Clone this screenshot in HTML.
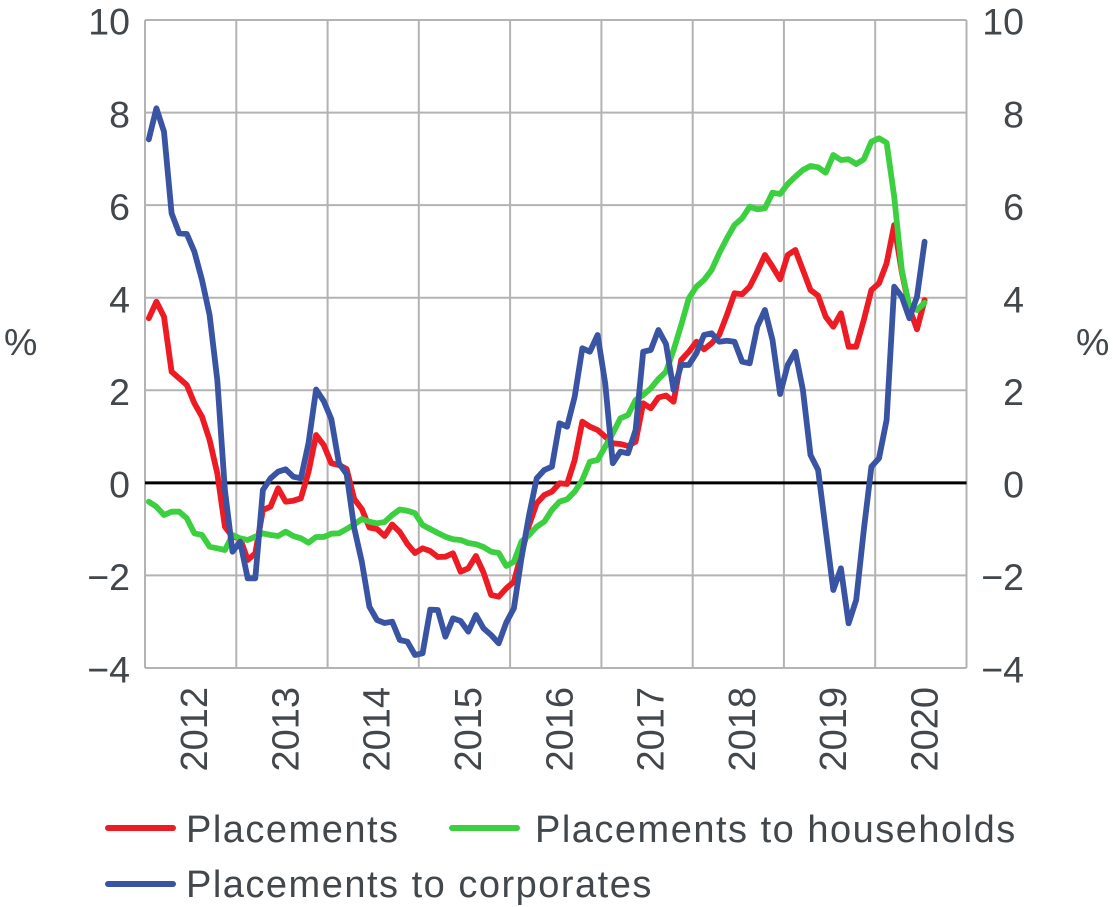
<!DOCTYPE html>
<html>
<head>
<meta charset="utf-8">
<style>
  html, body { margin: 0; padding: 0; background: #ffffff; }
  body { width: 1113px; height: 907px; overflow: hidden; }
  svg { display: block; }
  text { font-family: "Liberation Sans", Arial, sans-serif; fill: #42474c; }
</style>
</head>
<body>
<svg width="1113" height="907" viewBox="0 0 1113 907" xmlns="http://www.w3.org/2000/svg">
  <rect x="0" y="0" width="1113" height="907" fill="#ffffff"/>

  <!-- horizontal gridlines -->
  <g stroke="#b3b3b3" stroke-width="2" fill="none">
    <line x1="145" y1="20" x2="966.5" y2="20"/>
    <line x1="145" y1="112.6" x2="966.5" y2="112.6"/>
    <line x1="145" y1="205.1" x2="966.5" y2="205.1"/>
    <line x1="145" y1="297.7" x2="966.5" y2="297.7"/>
    <line x1="145" y1="390.3" x2="966.5" y2="390.3"/>
    <line x1="145" y1="575.4" x2="966.5" y2="575.4"/>
    <line x1="145" y1="668" x2="966.5" y2="668"/>
    <!-- vertical gridlines -->
    <line x1="145" y1="20" x2="145" y2="668"/>
    <line x1="236.3" y1="20" x2="236.3" y2="668"/>
    <line x1="327.6" y1="20" x2="327.6" y2="668"/>
    <line x1="418.8" y1="20" x2="418.8" y2="668"/>
    <line x1="510.1" y1="20" x2="510.1" y2="668"/>
    <line x1="601.4" y1="20" x2="601.4" y2="668"/>
    <line x1="692.7" y1="20" x2="692.7" y2="668"/>
    <line x1="783.9" y1="20" x2="783.9" y2="668"/>
    <line x1="875.2" y1="20" x2="875.2" y2="668"/>
    <line x1="966.5" y1="20" x2="966.5" y2="668"/>
  </g>
  <!-- zero line -->
  <line x1="145" y1="482.9" x2="966.5" y2="482.9" stroke="#000000" stroke-width="3"/>

  <!-- Left axis labels -->
  <g font-size="37.5" text-anchor="end">
    <text x="130" y="34.7">10</text>
    <text x="130" y="127.3">8</text>
    <text x="130" y="219.8">6</text>
    <text x="130" y="312.4">4</text>
    <text x="130" y="405">2</text>
    <text x="130" y="497.6">0</text>
    <text x="130" y="590.1">−2</text>
    <text x="130" y="682.7">−4</text>
  </g>
  <!-- Right axis labels -->
  <g font-size="37.5" text-anchor="end">
    <text x="1024" y="34.7">10</text>
    <text x="1024" y="127.3">8</text>
    <text x="1024" y="219.8">6</text>
    <text x="1024" y="312.4">4</text>
    <text x="1024" y="405">2</text>
    <text x="1024" y="497.6">0</text>
    <text x="1024" y="590.1">−2</text>
    <text x="1024" y="682.7">−4</text>
  </g>
  <!-- % labels -->
  <text x="4" y="355" font-size="37.5">%</text>
  <text x="1076" y="355" font-size="37.5">%</text>

  <!-- Year labels (rotated) -->
  <g font-size="38" text-anchor="end">
    <text transform="translate(207.2,687) rotate(-90)">2012</text>
    <text transform="translate(298.5,687) rotate(-90)">2013</text>
    <text transform="translate(389.7,687) rotate(-90)">2014</text>
    <text transform="translate(481,687) rotate(-90)">2015</text>
    <text transform="translate(572.3,687) rotate(-90)">2016</text>
    <text transform="translate(663.6,687) rotate(-90)">2017</text>
    <text transform="translate(754.8,687) rotate(-90)">2018</text>
    <text transform="translate(846.1,687) rotate(-90)">2019</text>
    <text transform="translate(937.4,687) rotate(-90)">2020</text>
  </g>

  <!-- Series -->
  <g fill="none" stroke-width="5.8" stroke-linejoin="round" stroke-linecap="round">
    <!-- Placements (red) -->
    <polyline stroke="#ed1c24" points="
148.8,318.3 156.4,301.7 164.0,316.7 171.6,371.7 179.2,378.3 186.8,385 194.4,403.3 202.0,416.7 209.6,440 217.3,473.3
224.9,526.7 232.5,536.7 240.1,538.3 247.7,560 255.3,553.3 262.9,510 270.5,506.7 278.1,488.3 285.7,501.7 293.3,500.7
300.9,498.3 308.5,472 316.1,435 323.7,445 331.3,463.3 338.9,465 346.6,469 354.2,499 361.8,509 369.4,527.5
377.0,529 384.6,536 392.2,524.5 399.8,532 407.4,544 415.0,553 422.6,548.3 430.2,551 437.8,557 445.4,556.7
453.0,553.3 460.6,571.7 468.3,568.3 475.9,556 483.5,572.5 491.1,595 498.7,596.7 506.3,588.3 513.9,581.7 521.5,553.3
529.1,525 536.7,503.3 544.3,495 551.9,491.7 559.5,483.3 567.1,484 574.7,460 582.3,421.7 589.9,426.7 597.6,430
605.2,436.7 612.8,443.3 620.4,444 628.0,446 635.6,441.7 643.2,403.3 650.8,408.3 658.4,397.5 666.0,395.5 673.6,401.7
681.2,360 688.8,351.7 696.4,341.7 704.0,349.3 711.6,343.3 719.2,335 726.9,315 734.5,293.3 742.1,294.3 749.7,286.7
757.3,271.7 764.9,255 772.5,266.7 780.1,279.3 787.7,255 795.3,250 802.9,270 810.5,290 818.1,295.7 825.7,316.7
833.3,326.7 840.9,313.3 848.6,346.7 856.2,346.7 863.8,320 871.4,290 879.0,283.3 886.6,263.3 894.2,225 901.8,272
909.4,308.3 917.0,329.3 924.6,300"/>
    <!-- Placements to households (green) -->
    <polyline stroke="#3ccf3f" points="
148.8,501.7 156.4,506.7 164.0,515 171.6,511.7 179.2,511.7 186.8,518.3 194.4,533.3 202.0,535 209.6,546.7 217.3,548.3
224.9,550 232.5,535 240.1,538.3 247.7,540 255.3,536.7 262.9,533.3 270.5,535 278.1,536 285.7,531.7 293.3,536
300.9,538.3 308.5,542.7 316.1,537 323.7,537 331.3,533.7 338.9,533.3 346.6,529 354.2,524.5 361.8,519 369.4,521.7
377.0,523.3 384.6,522 392.2,515 399.8,509.5 407.4,510.7 415.0,513.3 422.6,525 430.2,529 437.8,533 445.4,536.7
453.0,539.3 460.6,540 468.3,543 475.9,544.2 483.5,547 491.1,551.7 498.7,553 506.3,566 513.9,561.7 521.5,541.5
529.1,535 536.7,526.7 544.3,521.7 551.9,510 559.5,501.7 567.1,499.3 574.7,491.7 582.3,480 589.9,461.7 597.6,460
605.2,446.7 612.8,433.3 620.4,418.3 628.0,415 635.6,400 643.2,395 650.8,388.3 658.4,379 666.0,371.7 673.6,350
681.2,325 688.8,298.3 696.4,286.7 704.0,280 711.6,270 719.2,253.3 726.9,238.3 734.5,225 742.1,218.3 749.7,206.7
757.3,209.3 764.9,208.3 772.5,192.7 780.1,194 787.7,184 795.3,176.7 802.9,170 810.5,166 818.1,167.3 825.7,172.7
833.3,155 840.9,160 848.6,159.3 856.2,164 863.8,159.3 871.4,141.7 879.0,138.3 886.6,142.7 894.2,196.7 901.8,270
909.4,306.7 917.0,310 924.6,302.7"/>
    <!-- Placements to corporates (blue) -->
    <polyline stroke="#3a54a4" points="
148.8,139.3 156.4,108.3 164.0,131.7 171.6,213.3 179.2,233.3 186.8,234 194.4,251.7 202.0,280 209.6,315 217.3,380
224.9,490 232.5,551.7 240.1,541.7 247.7,578.3 255.3,578.3 262.9,490 270.5,478.3 278.1,471.7 285.7,469.3 293.3,476.7
300.9,478.3 308.5,443.3 316.1,389.5 323.7,401 331.3,419 338.9,463.3 346.6,474 354.2,528 361.8,561.7 369.4,606.7
377.0,620 384.6,623 392.2,621.7 399.8,640 407.4,641.7 415.0,655 422.6,653.3 430.2,609.7 437.8,610 445.4,636.7
453.0,618.3 460.6,621 468.3,631.7 475.9,615 483.5,628.3 491.1,635 498.7,643.3 506.3,622.5 513.9,608.3 521.5,558
529.1,515 536.7,478.3 544.3,470 551.9,466.7 559.5,423.3 567.1,426.7 574.7,396.7 582.3,348.3 589.9,351.7 597.6,335
605.2,383.3 612.8,463.3 620.4,451.7 628.0,453.3 635.6,430 643.2,351.7 650.8,350 658.4,330 666.0,344 673.6,390
681.2,365 688.8,365 696.4,353.3 704.0,335 711.6,333.3 719.2,341.7 726.9,340.7 734.5,341.7 742.1,361.7 749.7,363.3
757.3,326.7 764.9,310 772.5,340 780.1,394 787.7,365 795.3,351.7 802.9,390 810.5,455 818.1,470 825.7,530
833.3,590 840.9,568.3 848.6,623.3 856.2,600 863.8,530 871.4,466.7 879.0,458.3 886.6,420 894.2,286.7 901.8,296.7
909.4,318.3 917.0,296.7 924.6,241.7"/>
  </g>

  <!-- Legend -->
  <g stroke-width="6" stroke-linecap="round">
    <line x1="108" y1="828" x2="173" y2="828" stroke="#ed1c24"/>
    <line x1="452" y1="828" x2="517" y2="828" stroke="#3ccf3f"/>
    <line x1="108" y1="884" x2="173" y2="884" stroke="#3a54a4"/>
  </g>
  <g font-size="38" letter-spacing="1.5">
    <text x="186" y="842">Placements</text>
    <text x="535" y="842">Placements to households</text>
    <text x="186" y="897">Placements to corporates</text>
  </g>
</svg>
</body>
</html>
